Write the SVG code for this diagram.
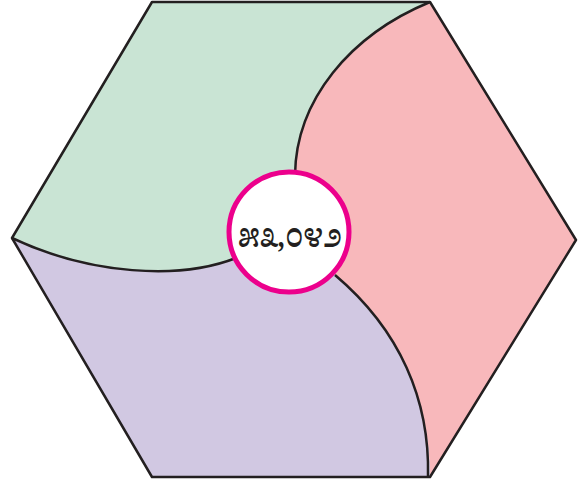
<svg xmlns="http://www.w3.org/2000/svg" width="583" height="484" viewBox="0 0 583 484">
<style>
.edge{fill:none;stroke:#231f20;stroke-width:2.5;stroke-linejoin:round}
.lbl{font-family:"Noto Serif Kannada","Noto Sans Kannada","Noto Sans",serif;font-size:32px;font-weight:600;fill:#231f20;text-anchor:middle}
</style>
<rect width="583" height="484" fill="#ffffff"/>
<g id="green">
<path d="M152,2 L430,2 C350,35 296,100 295,175 L289,232 L236,258 C180,280 90,275 12,238 Z" fill="#c9e4d4"/>
</g>
<g id="pink">
<path d="M430,2 L576,240 L430,477 C430,400 400,330 335,275 L289,232 L295,175 C296,100 350,35 430,2 Z" fill="#f8b8bb"/>
</g>
<g id="purple">
<path d="M12,238 C90,275 180,280 236,258 L289,232 L335,275 C400,330 430,400 430,477 L152,477 Z" fill="#d1c8e2"/>
</g>
<g id="connectors">
<path class="edge" d="M430,2 C350,35 296,100 295,175"/>
<path class="edge" d="M12,238 C90,275 180,280 236,258"/>
<path class="edge" d="M335,275 C400,330 430,400 428,477"/>
<path class="edge" d="M152,2 L430,2 L576,240 L430,477 L152,477 L12,238 Z"/>
</g>
<g id="center">
<circle cx="289" cy="232" r="60" fill="#ffffff" stroke="#ec008c" stroke-width="5"/>
<text class="lbl" x="290" y="247" textLength="104" lengthAdjust="spacingAndGlyphs">೫೩,೦೪೨</text>
</g>
</svg>
